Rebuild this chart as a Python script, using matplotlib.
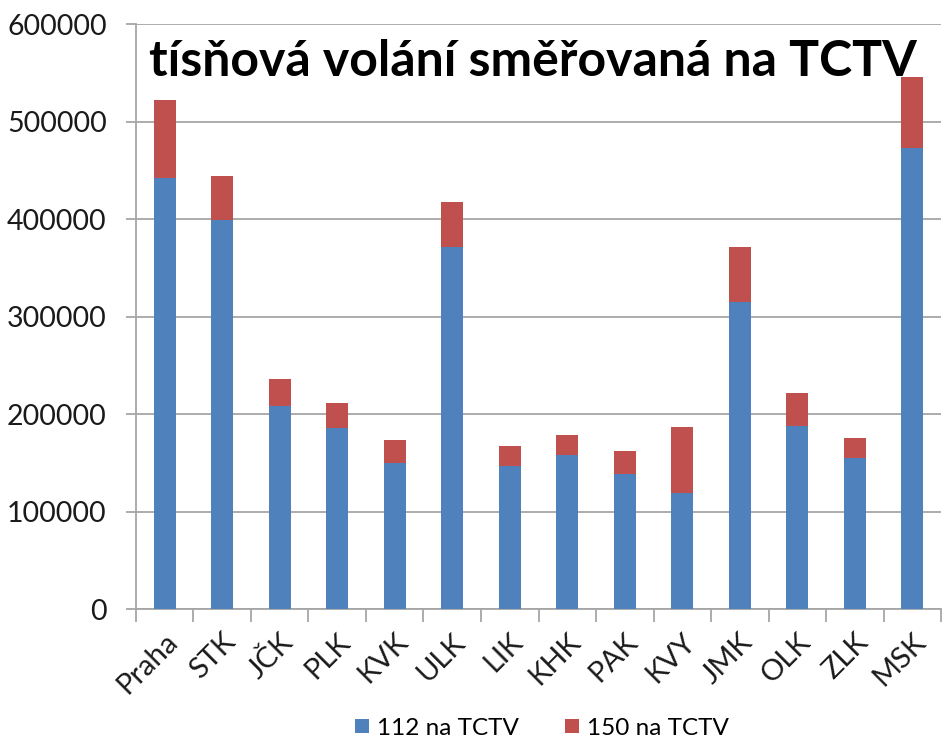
import matplotlib
matplotlib.use("Agg")
import matplotlib.pyplot as plt
import numpy as np

categories = ["Praha", "STK", "JČK", "PLK", "KVK", "ULK", "LIK", "KHK",
              "PAK", "KVY", "JMK", "OLK", "ZLK", "MSK"]
totals = [522000, 444000, 236000, 211000, 173000, 418000, 167000, 179000,
          162000, 187000, 372000, 222000, 176000, 546000]
calls_112 = [442000, 399000, 208000, 186000, 150000, 372000, 147000, 158000,
             139000, 119000, 315000, 188000, 155000, 473000]
calls_150 = [t - b for t, b in zip(totals, calls_112)]
series_names = ["112 na TCTV", "150 na TCTV"]
title = "tísňová volání směřovaná na TCTV"
yticks = [0, 100000, 200000, 300000, 400000, 500000, 600000]

plt.rcParams['font.family'] = ['Lato', 'DejaVu Sans']

fig = plt.figure(figsize=(9.43, 7.49), dpi=100)
ax = fig.add_axes([0.1442, 0.1869, 0.9979 - 0.1442, 0.9673 - 0.1869])

x = np.arange(len(categories))
blue = "#4F81BD"
red = "#C0504D"
ax.bar(x, calls_112, width=0.39, color=blue, label=series_names[0], zorder=3)
ax.bar(x, calls_150, width=0.39, bottom=calls_112, color=red,
       label=series_names[1], zorder=3)

ax.set_xlim(-0.5, len(categories) - 0.5)
ax.set_ylim(0, 600000)
ax.set_yticks(yticks)
ax.set_yticklabels([str(v) for v in yticks], fontsize=20.5, color="#1a1a1a")
ax.yaxis.grid(True, color="#A6A6A6", linewidth=1.3, zorder=0)
ax.set_axisbelow(True)

ax.set_xticks(x)
ax.set_xticklabels(categories, rotation=45, ha='right', rotation_mode='anchor',
                   fontsize=21, color="#1a1a1a")
ax.tick_params(axis='x', length=0, pad=14)
ax.set_xticks(np.arange(len(categories) + 1) - 0.5, minor=True)
ax.tick_params(axis='x', which='minor', length=9, width=1.3, color="#A6A6A6")
ax.tick_params(axis='y', length=7, width=1.3, color="#A6A6A6", pad=14)

for s in ['top', 'right']:
    ax.spines[s].set_visible(False)
for s in ['left', 'bottom']:
    ax.spines[s].set_color("#A6A6A6")
    ax.spines[s].set_linewidth(1.3)

ax.text(0.4925, 0.937, title, transform=ax.transAxes, ha='center', va='center',
        fontsize=36, fontweight='bold', color="black", zorder=5)

fig.legend(loc='center', bbox_to_anchor=(0.575, 0.028), ncol=2, frameon=False,
           fontsize=17.5, handlelength=0.55, handleheight=0.55, handletextpad=0.35,
           columnspacing=1.9)

fig.savefig("out.png", dpi=100)
